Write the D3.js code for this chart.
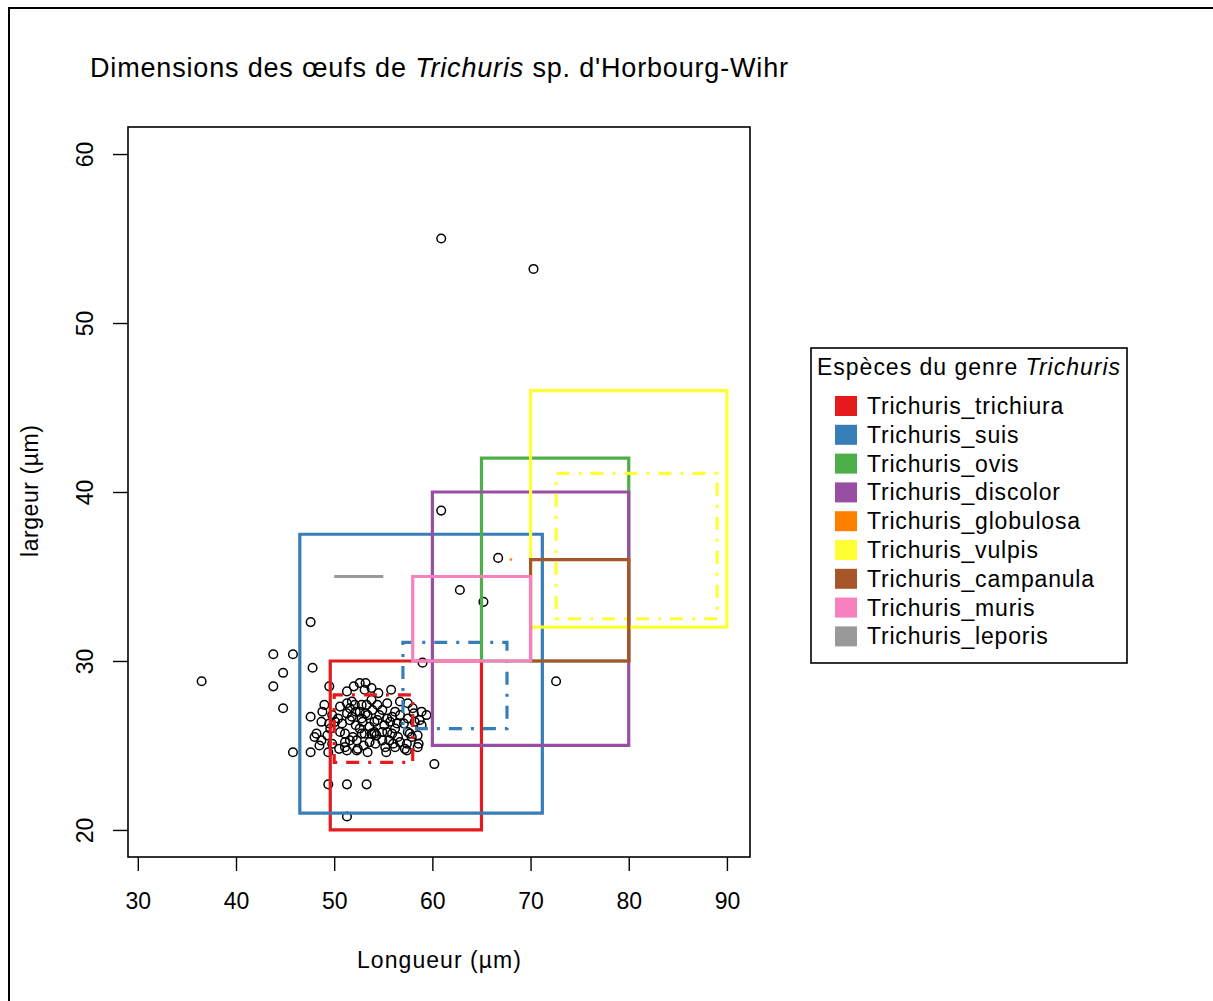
<!DOCTYPE html>
<html><head><meta charset="utf-8">
<script src="https://cdn.jsdelivr.net/npm/d3@7"></script>
<style>body{margin:0;background:#fff}svg{display:block;font-family:"Liberation Sans",Arial,sans-serif}</style>
</head><body>
<script>
// ---------- data ----------
const species = ["Trichuris_trichiura","Trichuris_suis","Trichuris_ovis","Trichuris_discolor","Trichuris_globulosa","Trichuris_vulpis","Trichuris_campanula","Trichuris_muris","Trichuris_leporis"];
const speciesColors = ["#E41A1C","#377EB8","#4DAF4A","#984EA3","#FF7F00","#FFFF33","#A65628","#F781BF","#999999"];
// literature ranges (length min/max, width min/max), kind: "range" or "typical"
const rectSpecies = ["Trichuris_trichiura","Trichuris_trichiura","Trichuris_suis","Trichuris_suis","Trichuris_ovis","Trichuris_discolor","Trichuris_globulosa","Trichuris_vulpis","Trichuris_vulpis","Trichuris_campanula","Trichuris_muris","Trichuris_leporis"];
const rectKind    = ["range","typical","range","typical","range","range","range","range","typical","range","range","range"];
const rectLenMin  = [49.6, 50, 46.5, 57, 65, 60, 68, 70, 72.6, 70, 58, 50];
const rectLenMax  = [65,   58, 71.2, 67.6, 80, 80, 68, 90, 89, 80, 70, 55];
const rectWidMin  = [20,   24, 21,   26, 30, 25, 36, 32, 32.5, 30, 30, 35];
const rectWidMax  = [30,   28, 37.5, 31.1, 42, 40, 36, 46, 41.1, 36, 35, 35];
// measured eggs
const eggLength = [36.5,60.9,70.3,60.9,66.7,62.8,65.2,59.0,72.6,60.2,47.6,43.8,45.8,47.8,44.8,43.8,44.8,47.6,45.8,47.6,49.4,50.5,51.3,52.4,53.4,55.3,57.2,58.5,49.4,51.3,53.3,51.3,
 52.6,53.2,49.5,51.3,54.5,55.8,49.0,50.6,52.1,53.3,55.4,57.5,48.8,49.8,51.3,52.6,53.9,56.2,58.9,59.4,48.7,50.1,51.6,52.9,54.1,55.4,56.4,57.5,58.7,58.9,48.2,49.3,50.6,51.9,53.1,54.3,55.9,57.5,58.5,48.7,49.8,51.1,52.3,53.6,54.9,56.0,57.4,58.6,52.3,57.4,
 51.8,53.4,54.6,52.2,53.6,55.1,52.8,54.1,55.4,51.3,54.4,56.7,58.0,53.1,52.0,53.8,48.0,48.5,51.6,52.8,54.1,55.7,50.8,49.6,56.5,57.9,55.2,56.7,58.2,
 51.8,52.8,53.8,54.9,55.9,52.2,53.2,54.4,52.6,53.8,54.9,56.2,57.1,51.6,53.0,54.2,55.6,56.7,51.1,50.4,49.5,51.1,56.2,57.7,58.1];
const eggWidth  = [28.8,55.0,53.2,38.9,36.1,34.2,33.5,29.9,28.8,23.9,32.3,30.4,30.4,29.6,29.3,28.5,27.2,26.7,24.6,24.6,24.6,24.8,24.7,24.8,24.6,24.6,24.8,24.9,22.7,22.7,22.7,20.8,
 28.7,28.7,28.5,28.2,28.1,28.3,27.4,27.3,27.4,27.4,27.5,27.5,27.0,26.8,26.9,27.0,27.1,27.0,27.0,26.8,26.4,26.4,26.5,26.4,26.4,26.6,26.3,26.6,26.5,26.2,25.7,25.6,25.8,25.5,25.7,25.6,25.7,25.8,25.6,25.3,25.1,25.2,25.3,25.2,25.3,25.1,25.1,25.1,24.7,24.7,
 26.7,26.8,26.8,26.2,26.1,26.2,25.7,25.7,25.8,27.5,27.4,27.6,27.2,28.3,28.5,28.4,25.5,25.0,27.2,26.6,25.8,26.4,26.3,26.0,25.5,25.5,24.9,26.8,26.4,
 27.6,27.4,27.7,27.1,26.7,27.0,26.9,26.5,26.0,25.7,25.8,26.0,26.3,25.3,25.0,25.1,25.3,25.2,25.7,26.6,26.3,24.9,24.9,25.7,26.9];
const xTicks = [30,40,50,60,70,80,90];
const yTicks = [20,30,40,50,60];
const xDomain = [29, 92.35];
const yDomain = [18.4, 61.6];

// ---------- drawing ----------
const W = 1213, H = 1001;
const svg = d3.select("body").append("svg").attr("width", W).attr("height", H);
svg.append("rect").attr("x",9).attr("y",8).attr("width",W+20).attr("height",H+20)
  .attr("fill","#fff").attr("stroke","#000").attr("stroke-width",2);

const P = {l:128, r:750, t:127, b:857};
const x = d3.scaleLinear().domain(xDomain).range([P.l, P.r]);
const y = d3.scaleLinear().domain(yDomain).range([P.b, P.t]);
const color = d3.scaleOrdinal().domain(species).range(speciesColors);

// title
const title = svg.append("text").attr("x",90).attr("y",77).attr("font-size",27)
  .attr("textLength",698).attr("lengthAdjust","spacing").attr("fill","#000");
title.append("tspan").text("Dimensions des œufs de ");
title.append("tspan").attr("font-style","italic").text("Trichuris");
title.append("tspan").text(" sp. d'Horbourg-Wihr");

// points
svg.append("g").selectAll("circle").data(d3.range(eggLength.length)).join("circle")
  .attr("cx", i => x(eggLength[i])).attr("cy", i => y(eggWidth[i])).attr("r", 4.3)
  .attr("fill","none").attr("stroke","#000").attr("stroke-width",1.5);

// rectangles
const rg = svg.append("g");
d3.range(rectSpecies.length).forEach(i => {
  const x0 = x(rectLenMin[i]), x1 = x(rectLenMax[i]), y0 = y(rectWidMin[i]), y1 = y(rectWidMax[i]);
  const c = color(rectSpecies[i]);
  if (x0 === x1 && y0 === y1) {
    rg.append("circle").attr("cx",x0).attr("cy",y0).attr("r",1.3).attr("fill",c);
    return;
  }
  const p = rg.append("path").attr("d", `M${x0},${y0}H${x1}V${y1}H${x0}Z`)
    .attr("fill","none").attr("stroke",c).attr("stroke-width",3.2);
  if (rectKind[i] === "typical") p.attr("stroke-dasharray","3,9,13,9");
});

// frame
svg.append("rect").attr("x",P.l).attr("y",P.t).attr("width",P.r-P.l).attr("height",P.b-P.t)
  .attr("fill","none").attr("stroke","#000").attr("stroke-width",1.6);

// x axis
const xa = svg.append("g").attr("transform",`translate(0,${P.b})`)
  .call(d3.axisBottom(x).tickValues(xTicks).tickSize(14).tickSizeOuter(0).tickPadding(22).tickFormat(d3.format("d")));
xa.select(".domain").remove();
xa.selectAll("line").attr("stroke","#000").attr("stroke-width",1.4);
xa.selectAll("text").attr("font-size",23).attr("font-family","Liberation Sans, Arial").attr("fill","#000");

// y axis
const ya = svg.append("g").attr("transform",`translate(${P.l},0)`)
  .call(d3.axisLeft(y).tickValues(yTicks).tickSize(15).tickSizeOuter(0).tickFormat(d3.format("d")));
ya.select(".domain").remove();
ya.selectAll("line").attr("stroke","#000").attr("stroke-width",1.4);
ya.selectAll("text").attr("font-size",23).attr("font-family","Liberation Sans, Arial").attr("fill","#000")
  .attr("x",null).attr("dy",null).attr("text-anchor","middle")
  .attr("transform","translate(-35,0) rotate(-90)");

// axis titles
svg.append("text").attr("x",357).attr("y",968).attr("font-size",23)
  .attr("textLength",164).attr("lengthAdjust","spacing").text("Longueur (µm)");
svg.append("text").attr("transform","translate(38,557) rotate(-90)").attr("font-size",23)
  .attr("textLength",132).attr("lengthAdjust","spacing").text("largeur (µm)");

// legend
const L = {x:811, y:348, w:316, h:315};
svg.append("rect").attr("x",L.x).attr("y",L.y).attr("width",L.w).attr("height",L.h)
  .attr("fill","#fff").attr("stroke","#000").attr("stroke-width",1.6);
const lt = svg.append("text").attr("x",817).attr("y",375).attr("font-size",23)
  .attr("textLength",303).attr("lengthAdjust","spacing");
lt.append("tspan").text("Espèces du genre ");
lt.append("tspan").attr("font-style","italic").text("Trichuris");
const li = svg.append("g").selectAll("g").data(species).join("g")
  .attr("transform",(d,i)=>`translate(0,${406 + i*28.8})`);
li.append("rect").attr("x",835).attr("y",-10).attr("width",22).attr("height",20).attr("fill",d=>color(d));
li.append("text").attr("x",867).attr("y",8).attr("font-size",23).attr("letter-spacing",0.8).text(d=>d);
</script>
</body></html>
